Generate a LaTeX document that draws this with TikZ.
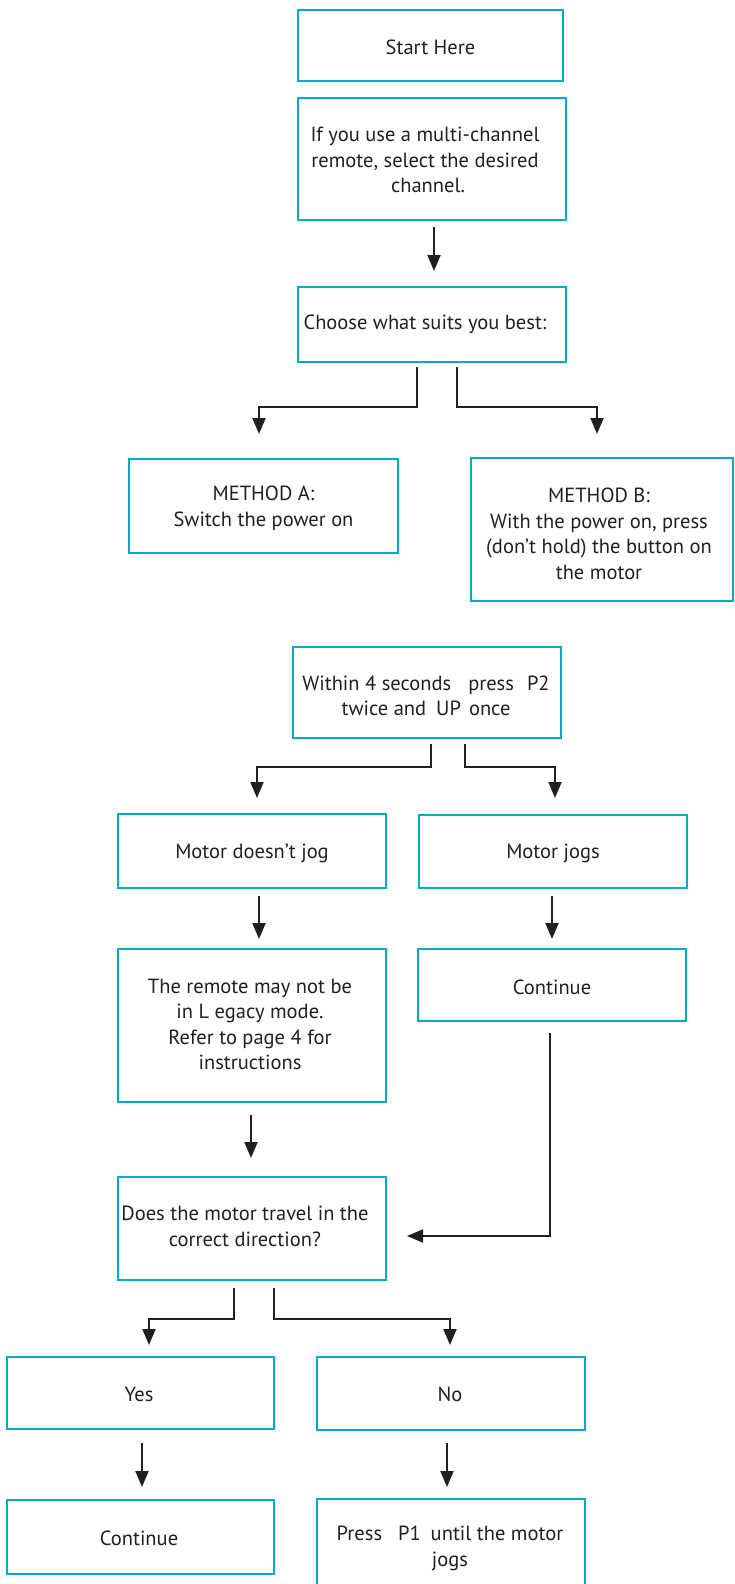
\documentclass[tikz,border=0pt]{standalone}
\usepackage{fontspec}
\setmainfont{PT Sans}
\usetikzlibrary{arrows.meta}
\definecolor{boxc}{RGB}{0,174,189}
\definecolor{ink}{RGB}{35,31,32}
\begin{document}
\begin{tikzpicture}[x=1pt,y=-1pt,
  box/.style={draw=boxc, line width=2.4pt, inner sep=0pt},
  txt/.style={align=center, inner sep=0pt, text=ink, font=\fontsize{20.5}{25.5}\selectfont},
  arr/.style={draw=ink, line width=2pt, -{Triangle[length=16pt,width=13pt]}},
  plain/.style={draw=ink, line width=2pt}]
\useasboundingbox (0,0) rectangle (734,1584);
% boxes
\node[box, minimum width=265pt, minimum height=71pt] (start) at (430.5,45.5) {};
\node[box, minimum width=268pt, minimum height=122pt] (chan) at (432,159) {};
\node[box, minimum width=268pt, minimum height=75pt] (choose) at (432,324.5) {};
\node[box, minimum width=269pt, minimum height=94pt] (ma) at (263.5,506) {};
\node[box, minimum width=262pt, minimum height=143pt] (mb) at (602,529.5) {};
\node[box, minimum width=268pt, minimum height=91pt] (within) at (427,692.5) {};
\node[box, minimum width=268pt, minimum height=74pt] (nojog) at (252,851) {};
\node[box, minimum width=268pt, minimum height=73pt] (jogs) at (553,851.5) {};
\node[box, minimum width=268pt, minimum height=153pt] (legacy) at (252,1025.5) {};
\node[box, minimum width=268pt, minimum height=72pt] (cont1) at (552,985) {};
\node[box, minimum width=268pt, minimum height=103pt] (does) at (252,1228.5) {};
\node[box, minimum width=267pt, minimum height=72pt] (yes) at (140.5,1393) {};
\node[box, minimum width=268pt, minimum height=73pt] (no) at (451,1393.5) {};
\node[box, minimum width=267pt, minimum height=74pt] (cont2) at (140.5,1537) {};
\node[box, minimum width=268pt, minimum height=101pt] (press) at (451,1549.5) {};
% texts
\node[txt] (tstart) at (430.5,47) {Start Here};
\node[txt] (tchan) at (425,160) {If you use a multi-channel\\remote, select the desired\\\hspace*{6pt}channel.};
\node[txt] (tchoose) at (425,324) {Choose what suits you best:};
\node[txt] (tma) at (263.5,508) {METHOD A:\\Switch the power on};
\node[txt] (tmb) at (599,534) {METHOD B:\\With the power on, press\\(don’t hold) the button on\\the motor};
\node[txt] (twithin) at (426,696) {Within 4 seconds\hspace{17pt}press\hspace{13pt}P2\\twice and\hspace{10pt}UP\hspace{8pt}once};
\node[txt] (tnojog) at (252,853) {Motor doesn’t jog};
\node[txt] (tjogs) at (553,853) {Motor jogs};
\node[txt] (tlegacy) at (250,1024.5) {The remote may not be\\in L egacy mode.\\Refer to page 4 for\\instructions};
\node[txt] (tcont1) at (552,987) {Continue};
\node[txt] (tdoes) at (245,1226.5) {Does the motor travel in the\\correct direction?};
\node[txt] (tyes) at (139,1394) {Yes};
\node[txt] (tno) at (450,1394) {No};
\node[txt] (tcont2) at (139,1538) {Continue};
\node[txt] (tpress) at (450,1548.5) {Press\hspace{16pt}P1\hspace{10pt}until the motor\\jogs};
% connector end points
\coordinate (c1a) at (434,227);   \coordinate (c1b) at (434,271);
\coordinate (c2a) at (417,367);   \coordinate (c2b) at (259,434);
\coordinate (c3a) at (457,367);   \coordinate (c3b) at (597,434);
\coordinate (c4a) at (431,744);   \coordinate (c4b) at (257,798);
\coordinate (c5a) at (465,744);   \coordinate (c5b) at (555,798);
\coordinate (c6a) at (259,896);   \coordinate (c6b) at (259,939);
\coordinate (c7a) at (552,896);   \coordinate (c7b) at (552,939);
\coordinate (c8a) at (251,1115);  \coordinate (c8b) at (251,1158);
\coordinate (c9a) at (550,1033);  \coordinate (c9b) at (407,1236);
\coordinate (c10a) at (234,1288); \coordinate (c10b) at (149,1345);
\coordinate (c11a) at (274,1288); \coordinate (c11b) at (450,1345);
\coordinate (c12a) at (142,1443); \coordinate (c12b) at (142,1487);
\coordinate (c13a) at (447,1443); \coordinate (c13b) at (447,1487);
% connectors
\draw[arr] (c1a) -- (c1b);
\draw[arr] (c2a) -- (417,407) -| (c2b);
\draw[arr] (c3a) -- (457,407) -| (c3b);
\draw[arr] (c4a) -- (431,767) -| (c4b);
\draw[arr] (c5a) -- (465,767) -| (c5b);
\draw[arr] (c6a) -- (c6b);
\draw[arr] (c7a) -- (c7b);
\draw[arr] (c8a) -- (c8b);
\draw[arr] (c9a) |- (c9b);
\draw[arr] (c10a) -- (234,1319) -| (c10b);
\draw[arr] (c11a) -- (274,1319) -| (c11b);
\draw[arr] (c12a) -- (c12b);
\draw[arr] (c13a) -- (c13b);
\end{tikzpicture}
\end{document}
